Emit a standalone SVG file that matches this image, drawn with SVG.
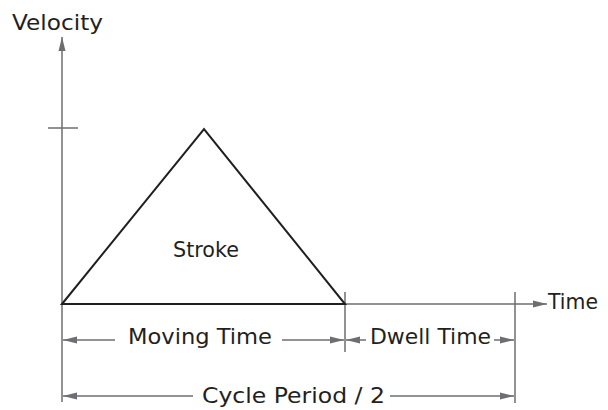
<svg xmlns="http://www.w3.org/2000/svg" width="608" height="410" viewBox="0 0 608 410">
<style>
.ax{stroke:#6d6e71;stroke-width:1.5;fill:none}
.tri{stroke:#231f20;stroke-width:2;fill:none;stroke-linejoin:miter}
text{font-family:"DejaVu Sans","Liberation Sans",sans-serif;font-size:21px;fill:#231f20}
</style>
<defs>
<marker id="ah" markerUnits="userSpaceOnUse" markerWidth="14" markerHeight="8" refX="14" refY="4" orient="auto">
<path d="M0,0.5 L14,4 L0,7.5 Z" fill="#6d6e71"/>
</marker>
</defs>
<rect width="608" height="410" fill="#ffffff"/>
<g id="axes">
<line class="ax" x1="62" y1="402" x2="62" y2="37" marker-end="url(#ah)"/>
<line class="ax" x1="48" y1="128" x2="78" y2="128"/>
<line class="ax" x1="345" y1="304" x2="547" y2="304" marker-end="url(#ah)"/>
<line class="ax" x1="345" y1="292" x2="345" y2="352"/>
<line class="ax" x1="515" y1="292" x2="515" y2="403"/>
</g>
<g id="stroke-triangle">
<polygon class="tri" points="62,304 204,129 345,304"/>
<text x="173" y="257" textLength="66" lengthAdjust="spacingAndGlyphs">Stroke</text>
</g>
<g id="labels">
<text x="12" y="30" textLength="91" lengthAdjust="spacingAndGlyphs">Velocity</text>
<text x="548" y="309" textLength="50" lengthAdjust="spacingAndGlyphs">Time</text>
</g>
<g id="connectors">
<line class="ax" x1="115" y1="340" x2="63" y2="340" marker-end="url(#ah)"/>
<line class="ax" x1="282" y1="340" x2="344" y2="340" marker-end="url(#ah)"/>
<line class="ax" x1="366" y1="340" x2="346" y2="340" marker-end="url(#ah)"/>
<line class="ax" x1="494" y1="340" x2="514" y2="340" marker-end="url(#ah)"/>
<line class="ax" x1="193" y1="396" x2="63" y2="396" marker-end="url(#ah)"/>
<line class="ax" x1="390" y1="396" x2="514" y2="396" marker-end="url(#ah)"/>
</g>
<g id="moving-time">
<text x="128" y="344" textLength="144" lengthAdjust="spacingAndGlyphs">Moving Time</text>
</g>
<g id="dwell-time">
<text x="370" y="344" textLength="121" lengthAdjust="spacingAndGlyphs">Dwell Time</text>
</g>
<g id="cycle-period">
<text x="202" y="403" textLength="183" lengthAdjust="spacingAndGlyphs">Cycle Period / 2</text>
</g>
</svg>
